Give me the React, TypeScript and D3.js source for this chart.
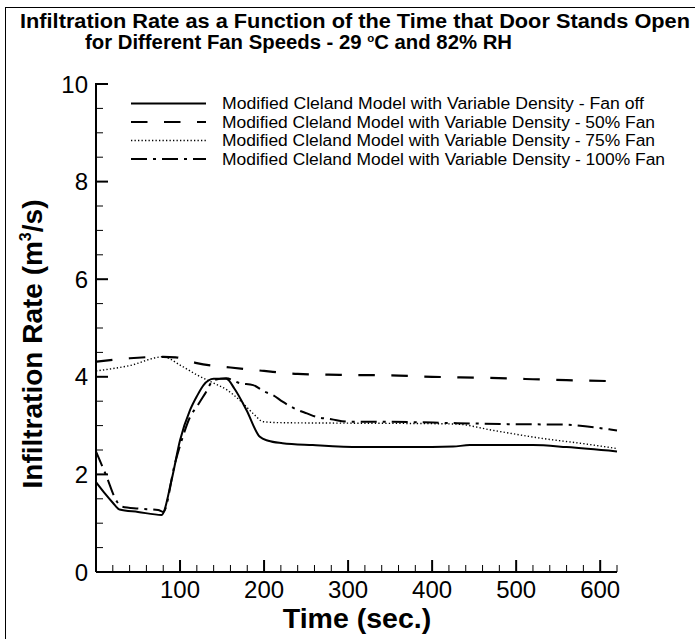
import React from "react";
import * as d3 from "d3";

// ---- data ----
const TIME_FANOFF = [0, 10, 20, 28, 50, 78, 90, 100, 112, 120, 128, 140, 155, 165, 179, 195, 205, 222, 258, 314, 400, 425, 445, 520, 560, 620];
const RATE_FANOFF = [1.84, 1.62, 1.42, 1.28, 1.23, 1.17, 1.89, 2.7, 3.32, 3.6, 3.83, 3.96, 3.96, 3.75, 3.32, 2.77, 2.69, 2.64, 2.6, 2.56, 2.56, 2.57, 2.6, 2.6, 2.56, 2.47];

const TIME_FAN50 = [0, 40, 80, 95, 120, 160, 200, 240, 290, 350, 400, 460, 520, 560, 620];
const RATE_FAN50 = [4.31, 4.38, 4.41, 4.4, 4.28, 4.19, 4.12, 4.06, 4.04, 4.03, 4.0, 3.98, 3.95, 3.93, 3.91];

const TIME_FAN75 = [0, 40, 80, 100, 120, 140, 156, 171, 187, 199, 220, 300, 400, 430, 470, 530, 580, 620];
const RATE_FAN75 = [4.12, 4.23, 4.41, 4.24, 4.04, 3.87, 3.73, 3.52, 3.25, 3.08, 3.06, 3.05, 3.04, 3.03, 2.91, 2.74, 2.63, 2.53];

const TIME_FAN100 = [0, 12, 25, 31, 50, 74, 80, 94, 102, 112, 120, 130, 140, 155, 171, 187, 200, 211, 222, 240, 251, 262, 280, 300, 334, 430, 490, 556, 612, 620];
const RATE_FAN100 = [2.47, 1.98, 1.44, 1.34, 1.3, 1.27, 1.23, 2.23, 2.7, 3.18, 3.39, 3.66, 3.93, 3.97, 3.87, 3.83, 3.7, 3.62, 3.49, 3.32, 3.25, 3.18, 3.13, 3.08, 3.08, 3.05, 3.03, 3.02, 2.92, 2.9];

const LEGEND_LABELS = [
  "Modified Cleland Model with Variable Density - Fan off",
  "Modified Cleland Model with Variable Density - 50% Fan",
  "Modified Cleland Model with Variable Density - 75% Fan",
  "Modified Cleland Model with Variable Density - 100% Fan",
];

const X_TICK_LABELS = [100, 200, 300, 400, 500, 600];
const Y_TICK_LABELS = [0, 2, 4, 6, 8, 10];
const X_MINOR = d3.range(20, 621, 20);
const Y_MINOR = d3.range(0.5, 10, 0.5);

const X_DOMAIN = [0, 620];
const Y_DOMAIN = [0, 10];

const FONT = "'Liberation Sans', Arial, Helvetica, sans-serif";

const SERIES = [
  { t: TIME_FANOFF, v: RATE_FANOFF, dash: "none", width: 2 },
  { t: TIME_FAN50, v: RATE_FAN50, dash: "16.5 16.5", width: 2.2 },
  { t: TIME_FAN75, v: RATE_FAN75, dash: "1.3 2.2", width: 1.4 },
  { t: TIME_FAN100, v: RATE_FAN100, dash: "16 6 3 6", width: 2 },
];

export default function App() {
  const W = 695;
  const H = 639;
  const x = d3.scaleLinear().domain(X_DOMAIN).range([96, 617]);
  const y = d3.scaleLinear().domain(Y_DOMAIN).range([572, 84]);

  const line = d3
    .line<[number, number]>()
    .x((d) => x(d[0]))
    .y((d) => y(d[1]))
    .curve(d3.curveMonotoneX);

  const legendY = [103.5, 122, 140.5, 159];
  const legendLen = [422, 433, 433, 443];

  return (
    <svg
      width={W}
      height={H}
      style={{ position: "absolute", left: 0, top: 0, background: "#fff" }}
      fontFamily={FONT}
    >
      <rect x={0} y={0} width={W} height={H} fill="#fff" />
      {/* outer frame (left and top) */}
      <line x1={5.5} y1={7.5} x2={5.5} y2={H} stroke="#000" strokeWidth={1} />
      <line x1={5} y1={7.5} x2={W} y2={7.5} stroke="#000" strokeWidth={1} />

      {/* title */}
      <text
        x={20}
        y={28}
        textAnchor="start"
        fontWeight="bold"
        fontSize={19.5}
        textLength={670}
        lengthAdjust="spacingAndGlyphs"
      >
        Infiltration Rate as a Function of the Time that Door Stands Open
      </text>
      <text
        x={85}
        y={48.5}
        textAnchor="start"
        fontWeight="bold"
        fontSize={19.5}
        textLength={427}
        lengthAdjust="spacingAndGlyphs"
      >
        for Different Fan Speeds - 29{" "}
        <tspan fontSize={11} dy={-7}>o</tspan>
        <tspan dy={7}>C and 82% RH</tspan>
      </text>

      {/* axes */}
      <line x1={x(0)} y1={y(0)} x2={x(620)} y2={y(0)} stroke="#000" strokeWidth={2} />
      <line x1={x(0)} y1={y(0)} x2={x(0)} y2={y(10)} stroke="#000" strokeWidth={2} />

      {X_MINOR.filter((v) => v % 100 !== 0).map((v) => (
        <line key={"xm" + v} x1={x(v)} x2={x(v)} y1={y(0)} y2={y(0) - 7} stroke="#000" strokeWidth={1} />
      ))}
      {X_TICK_LABELS.map((v) => (
        <g key={"xt" + v}>
          <line x1={x(v)} x2={x(v)} y1={y(0)} y2={y(0) - 12} stroke="#000" strokeWidth={2} />
          <text x={x(v)} y={598} textAnchor="middle" fontSize={24}>
            {v}
          </text>
        </g>
      ))}
      {Y_MINOR.filter((v) => v % 2 !== 0).map((v) => (
        <line key={"ym" + v} x1={x(0)} x2={x(0) + 7} y1={y(v)} y2={y(v)} stroke="#000" strokeWidth={1} />
      ))}
      {Y_TICK_LABELS.map((v) => (
        <g key={"yt" + v}>
          {v !== 0 && (
            <line x1={x(0) - 1} x2={x(0) + 12} y1={y(v)} y2={y(v)} stroke="#000" strokeWidth={2} />
          )}
          <text x={88} y={y(v) + 8.5} textAnchor="end" fontSize={24}>
            {v}
          </text>
        </g>
      ))}

      {/* axis titles */}
      <text x={357} y={628} textAnchor="middle" fontWeight="bold" fontSize={28.5}>
        Time (sec.)
      </text>
      <text
        transform="translate(42,344) rotate(-90)"
        textAnchor="middle"
        fontWeight="bold"
        fontSize={28}
      >
        Infiltration Rate (m
        <tspan fontSize={16} dy={-11}>3</tspan>
        <tspan dy={11}>/s)</tspan>
      </text>

      {/* series */}
      {SERIES.map((s, i) => (
        <path
          key={"s" + i}
          d={line(s.t.map((t, j) => [t, s.v[j]] as [number, number])) || ""}
          fill="none"
          stroke="#000"
          strokeWidth={s.width}
          strokeDasharray={s.dash}
        />
      ))}

      {/* legend */}
      {LEGEND_LABELS.map((lab, i) => (
        <g key={"lg" + i}>
          <line
            x1={131}
            x2={206}
            y1={legendY[i]}
            y2={legendY[i]}
            stroke="#000"
            strokeWidth={SERIES[i].width}
            strokeDasharray={SERIES[i].dash}
          />
          <text
            x={222}
            y={legendY[i] + 5.5}
            fontSize={16}
            textLength={legendLen[i]}
            lengthAdjust="spacingAndGlyphs"
          >
            {lab}
          </text>
        </g>
      ))}
    </svg>
  );
}
